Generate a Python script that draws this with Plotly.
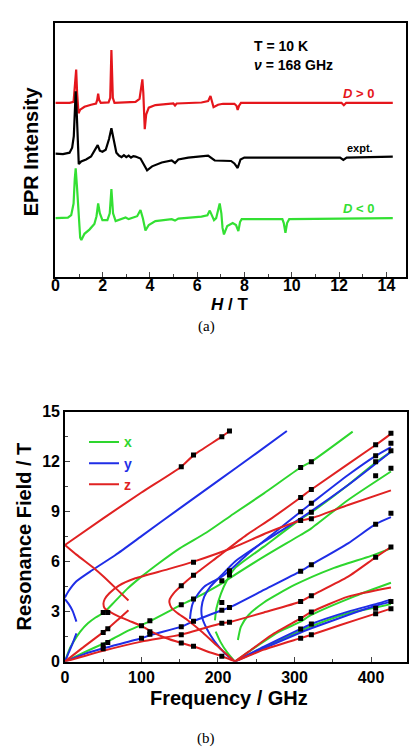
import plotly.graph_objects as go

# ---------------- Panel (a): EPR spectra (H in T, intensity in arb. units) ----------------
H_dpos = [0, 0.6, 0.77, 0.84, 0.88, 0.92, 0.98, 1.05, 1.23, 1.51, 1.72, 1.77, 1.81, 1.85, 1.92, 2.25, 2.32, 2.37,
          2.43, 2.5, 3.39, 3.56, 3.64, 3.68, 3.72, 3.75, 3.78, 3.84, 3.95, 4.23, 4.78, 4.99, 5.06, 5.13, 6.18, 6.46,
          6.56, 6.62, 6.69, 6.88, 7.09, 7.57, 7.66, 7.71, 7.77, 7.85, 12.1, 12.2, 12.3, 14.27]
I_dpos = [0, 0, 1, 20, 34, 10, -10.7, -7, -4, -2, -0.7, 3, 9.3, 3, 0, 0.5, 5, 54,
          5, 0, 1, 4, 15, 24, 10, -20, -27, -12, -5, -2.3, -0.7, -0.7, -2.7, -0.7, 0.3, 1.7,
          7, 2, -4.5, -2, -1, -1, -3, -7.3, -3, 0, 0, -2.5, 0, 0]

H_expt = [0, 0.32, 0.6, 0.71, 0.78, 0.84, 0.86, 0.91, 0.95, 0.99, 1.09, 1.3, 1.51, 1.69, 1.79, 1.88, 1.99, 2.13,
          2.27, 2.37, 2.47, 2.58, 2.69, 2.8, 2.9, 3.0, 3.1, 3.2, 3.3, 3.39, 3.6, 3.74, 3.88, 4.09, 4.5, 4.92, 5.06,
          5.2, 5.62, 6.46, 6.62, 6.74, 7.43, 7.57, 7.71, 7.83, 7.99, 12.04, 12.18, 12.32, 14.27]
I_expt = [2, 1.5, 3, 8, 20, 50, 65.7, 40, 5, -8.7, -6, -4, -1, 7, 10.7, 5, 4, 6,
          17, 28, 14, 3, 0, -1.5, 0.5, -1.5, 0, -2, -0.5, -1, -3, -9, -15, -11, -7, -5, -7.5,
          -4, -2, 0, -3, -5, -5.5, -8, -12.7, -4, -2, -2, -4.5, -2, -1]

H_dneg = [0, 0.53, 0.67, 0.77, 0.82, 0.86, 0.92, 0.98, 1.05, 1.1, 1.23, 1.44, 1.65, 1.74, 1.81, 1.88, 1.99, 2.2,
          2.3, 2.37, 2.44, 2.55, 2.83, 2.97, 3.1, 3.46, 3.6, 3.7, 3.81, 3.95, 4.23, 4.92, 5.06, 5.2, 6.18, 6.43,
          6.53, 6.62, 6.71, 6.8, 6.88, 6.95, 7.02, 7.07, 7.13, 7.27, 7.5, 7.64, 7.74, 7.81, 7.88, 9.6, 9.66,
          9.73, 9.8, 9.89, 14.27]
I_dneg = [0, 0.5, 3, 15, 40, 51, 30, 0, -20, -22.3, -16, -11.7, -6, 2, 15, 5, -2, -2,
          5, 29.7, 5, -3, -1, 0.7, -1, 2, 8.3, 0, -12.7, -7, -3, -1, -2.5, -0.5, 1.5, 3,
          7.7, 2, -2, 0, 8, 15, 5, -10, -16.7, -8, -5, -7, -13.3, -4, -1, -1, -5,
          -15, -5, -1, 0]

offset_dpos = 178
offset_expt = 124
offset_dneg = 60

# ---------------- Panel (b): resonance field (T) vs frequency (GHz) ----------------
z1 = [(0, 7.0), (50, 8.6), (100, 10.15), (152, 11.7), (168, 12.38), (205, 13.5), (215, 13.84)]
z2 = [(0, 7.0), (15, 6.42), (38, 5.6), (50, 5.12), (71, 4.2), (83, 3.67)]
z3 = [(0, 0), (25, 0.9), (51, 1.8), (56, 1.98), (70, 2.55), (83, 3.08)]
z4 = [(426, 10.28), (370, 9.4), (322, 8.6), (308, 8.47), (265, 7.75), (220, 6.85), (168, 6.0), (135, 5.55),
      (92, 5.0), (70, 4.55), (58, 4.1), (52, 3.75), (50.3, 3.47), (52, 3.2), (60, 2.95), (70, 2.72), (84, 2.45),
      (100, 2.14), (111, 1.85), (130, 1.45), (152, 1.12), (168, 0.92), (190, 0.55), (205, 0.33), (222, 0)]
z5 = [(426, 13.67), (406, 13.0), (322, 10.33), (308, 9.85), (270, 8.6), (237, 7.59), (200, 6.3), (168, 5.18),
      (152, 4.55), (142, 4.1), (137, 3.75), (136.5, 3.55), (139, 3.25), (146, 2.95), (160, 2.5), (180, 1.75),
      (200, 0.9), (222, 0)]
z6 = [(0, 0), (50, 0.65), (100, 1.2), (152, 1.62), (205, 2.3), (215, 2.37), (220, 2.43), (260, 2.95), (308, 3.61),
      (322, 3.96), (370, 5.1), (406, 6.26), (426, 6.88)]
z7 = [(222, 0), (240, 0.35), (260, 0.72), (308, 1.41), (322, 1.61), (360, 2.2), (406, 2.88), (426, 3.18)]
z8 = [(222, 0), (240, 0.6), (270, 1.6), (308, 2.59), (322, 2.98), (370, 3.9), (426, 4.45)]

y1 = [(0, 3.85), (5, 4.25), (15, 4.82), (36, 5.5), (66, 6.4), (100, 7.53), (150, 9.2), (200, 10.85), (250, 12.5), (290, 13.84)]
y2 = [(0, 3.75), (5, 3.45), (10, 3.05), (15, 2.4)]
y3 = [(0, 0), (5, 0.55), (10, 1.1), (15, 1.7)]
y4 = [(0, 0), (25, 0.45), (50, 0.8), (100, 1.4), (112, 1.6), (152, 2.1), (168, 2.43), (205, 3.08), (215, 3.25),
      (260, 4.3), (308, 5.43), (322, 5.82), (370, 7.1), (406, 8.25), (426, 8.67)]
y5 = [(163.4, 2.57), (164.5, 3.0), (167, 3.5), (173, 4.0), (182, 4.5), (195, 4.85), (205, 5.1), (215, 5.45),
      (240, 6.5), (270, 7.6), (308, 9.0), (322, 9.5), (370, 11.2), (406, 12.35), (426, 12.88)]
y6 = [(222, 0), (260, 0.9), (308, 1.96), (322, 2.26), (370, 3.0), (406, 3.45), (426, 3.72)]
y7 = [(222, 0), (260, 0.8), (308, 1.75), (322, 2.0), (370, 2.8), (406, 3.35), (426, 3.6)]
y8 = [(222, 0), (210, 0.45), (195, 1.25), (185, 2.0), (179, 2.7), (178.5, 3.25), (182, 3.9), (190, 4.5), (205, 5.2),
      (222, 6.0), (260, 7.2), (308, 8.6), (370, 10.6), (426, 12.6)]

x1 = [(0, 0), (5, 0.65), (10, 1.1), (20, 1.8), (30, 2.3), (40, 2.65), (51, 2.95), (65, 3.6), (81, 4.35), (100, 5.1),
      (124, 5.95), (150, 6.8), (185, 7.75), (220, 8.86), (260, 10.1), (308, 11.65), (322, 12.0), (376, 13.8)]
x2 = [(0, 0), (25, 0.55), (51, 1.1), (56, 1.2), (80, 1.8), (100, 2.2), (112, 2.45), (152, 3.41), (168, 3.76),
      (205, 4.7), (215, 5.0), (260, 6.3), (308, 7.6), (322, 8.0), (370, 9.7), (426, 11.41)]
x3 = [(196, 2.47), (198, 3.2), (204, 4.1), (212, 4.9), (222, 5.6), (260, 6.9), (308, 8.55), (322, 8.96), (370, 10.6),
      (406, 11.95), (426, 12.59)]
x3b = [(222, 0), (212, 0.55), (203, 1.2), (197, 1.8)]
x4 = [(226, 1.3), (230, 2.1), (240, 2.8), (260, 3.55), (300, 4.6), (350, 5.6), (400, 6.35), (426, 6.8)]
x5 = [(222, 0), (250, 0.9), (280, 1.8), (308, 2.4), (322, 2.8), (380, 3.95), (426, 4.73)]
x6 = [(222, 0), (260, 0.85), (308, 1.85), (322, 2.12), (370, 2.9), (406, 3.25), (426, 3.45)]

# experimental resonance fields (frequency, field)
exp_freq = [50, 50, 50, 50, 56, 56, 56, 100, 100, 111, 111, 111,
            152, 152, 152, 152, 152, 152, 168, 168, 168, 168, 168, 168,
            205, 205, 205, 205, 205, 205, 215, 215, 215, 215, 215,
            308, 308, 308, 308, 308, 308, 308, 308, 308,
            322, 322, 322, 322, 322, 322, 322, 322, 322, 322,
            406, 406, 406, 406, 406, 406, 406, 406,
            426, 426, 426, 426, 426, 426, 426, 426]
exp_field = [2.95, 1.75, 1.0, 0.78, 2.95, 1.98, 1.15, 2.15, 1.4, 2.45, 1.8, 1.65,
             11.7, 4.55, 3.41, 2.1, 1.61, 1.12, 12.4, 5.96, 5.18, 3.76, 2.43, 0.92,
             13.5, 4.85, 3.55, 3.08, 2.3, 0.33, 13.84, 5.45, 5.2, 3.25, 2.37,
             11.65, 9.85, 9.0, 8.47, 5.43, 3.61, 2.59, 1.96, 1.41,
             12.0, 10.33, 9.5, 8.96, 8.57, 5.82, 3.96, 2.98, 2.26, 1.61,
             13.02, 12.35, 12.0, 11.15, 8.25, 6.26, 3.2, 2.88,
             13.7, 13.1, 12.65, 11.6, 8.9, 6.88, 3.61, 3.18]

RED_A, GREEN_A = "#e5161c", "#33e033"
RED_B, BLUE_B, GREEN_B = "#e02222", "#1f2ee6", "#2ed62e"
FONT = "Liberation Sans, Arial, sans-serif"

W, Hpx = 409, 754
fig = go.Figure()

def shifted(vals, off):
    return [v + off for v in vals]

fig.add_trace(go.Scatter(x=H_dpos, y=shifted(I_dpos, offset_dpos), mode="lines", line=dict(color=RED_A, width=2.2),
                         xaxis="x", yaxis="y", showlegend=False, name="D > 0"))
fig.add_trace(go.Scatter(x=H_expt, y=shifted(I_expt, offset_expt), mode="lines", line=dict(color="black", width=2.2),
                         xaxis="x", yaxis="y", showlegend=False, name="expt."))
fig.add_trace(go.Scatter(x=H_dneg, y=shifted(I_dneg, offset_dneg), mode="lines", line=dict(color=GREEN_A, width=2.2),
                         xaxis="x", yaxis="y", showlegend=False, name="D < 0"))

groups = [("x", GREEN_B, [x1, x2, x3, x3b, x4, x5, x6]),
          ("y", BLUE_B, [y1, y2, y3, y4, y5, y6, y7, y8]),
          ("z", RED_B, [z1, z2, z3, z4, z5, z6, z7, z8])]
for label, col, curves in groups:
    for i, c in enumerate(curves):
        fig.add_trace(go.Scatter(
            x=[p[0] for p in c], y=[p[1] for p in c], mode="lines",
            line=dict(color=col, width=2, shape="spline", smoothing=0.6),
            xaxis="x2", yaxis="y2", legendgroup=label, showlegend=(i == 0),
            name=f"<span style='color:{col}'><b>{label}</b></span>"))

fig.add_trace(go.Scatter(x=exp_freq, y=exp_field, mode="markers",
                         marker=dict(symbol="square", size=5, color="black"),
                         xaxis="x2", yaxis="y2", showlegend=False, name="expt."))

def px2fx(px):
    return px / W

def py2fy(py):
    return 1 - py / Hpx

axis_common = dict(showline=True, linewidth=1.6, linecolor="black", mirror=True, showgrid=False, zeroline=False)

fig.update_layout(
    width=W, height=Hpx, margin=dict(l=0, r=0, t=0, b=0),
    plot_bgcolor="white", paper_bgcolor="white",
    font=dict(family=FONT, color="black"),
    xaxis=dict(domain=[px2fx(52), px2fx(407)], range=[0, 14.83], anchor="y", **axis_common,
               ticks="inside", ticklen=5, tickwidth=1.4, dtick=2, tick0=0, ticklabelstandoff=-7,
               minor=dict(ticks="inside", ticklen=3, dtick=1, tickwidth=1.2),
               tickfont=dict(size=16, family=FONT, weight="bold")),
    yaxis=dict(domain=[py2fy(275), py2fy(15)], range=[0, 260], anchor="x", **axis_common,
               ticks="", showticklabels=False),
    xaxis2=dict(domain=[px2fx(61.7), px2fx(408)], range=[0, 447], anchor="y2", **axis_common,
                ticks="inside", ticklen=5, tickwidth=1.4, dtick=100, tick0=0,
                minor=dict(ticks="inside", ticklen=3, dtick=50, tickwidth=1.2),
                tickfont=dict(size=16, family=FONT, weight="bold")),
    yaxis2=dict(domain=[py2fy(668.7), py2fy(413)], range=[0, 15], anchor="x2", **axis_common,
                ticks="inside", ticklen=5, tickwidth=1.4, dtick=3, tick0=0,
                minor=dict(ticks="inside", ticklen=3, dtick=1.5, tickwidth=1.2),
                tickfont=dict(size=16, family=FONT, weight="bold")),
    legend=dict(x=px2fx(81), y=py2fy(428), xanchor="left", yanchor="top", bgcolor="rgba(0,0,0,0)",
                font=dict(size=14, family=FONT), tracegroupgap=0, itemwidth=30),
)

ann = [
    dict(text="<b>EPR Intensity</b>", x=px2fx(27), y=py2fy(147), textangle=-90, font=dict(size=20)),
    dict(text="<b><i>H</i> / T</b>", x=px2fx(228), y=py2fy(303), font=dict(size=17)),
    dict(text="<b>T = 10 K</b>", x=px2fx(280), y=py2fy(39), font=dict(size=14)),
    dict(text="<b><i>ν</i> = 168 GHz</b>", x=px2fx(293), y=py2fy(58), font=dict(size=14)),
    dict(text="<b><i>D</i> > 0</b>", x=px2fx(359), y=py2fy(87), font=dict(size=13, color=RED_A)),
    dict(text="<b>expt.</b>", x=px2fx(360), y=py2fy(143), font=dict(size=11)),
    dict(text="<b><i>D</i> < 0</b>", x=px2fx(359), y=py2fy(205), font=dict(size=13, color=GREEN_A)),
    dict(text="(a)", x=px2fx(205), y=py2fy(326), font=dict(size=15, family="Liberation Serif, Times New Roman, serif")),
    dict(text="<b>Resonance Field / T</b>", x=px2fx(20), y=py2fy(541), textangle=-90, font=dict(size=20)),
    dict(text="<b>Frequency / GHz</b>", x=px2fx(228), y=py2fy(706), font=dict(size=20)),
    dict(text="(b)", x=px2fx(205), y=py2fy(747), font=dict(size=15, family="Liberation Serif, Times New Roman, serif")),
]
for a in ann:
    a.update(xref="paper", yref="paper", showarrow=False, xanchor="center", yanchor="middle")
    a.setdefault("font", {})
    a["font"].setdefault("family", FONT)
    a["font"].setdefault("color", "black")
fig.update_layout(annotations=ann)

fig.write_html("out.html", config={"displayModeBar": False},
               post_script="document.body.style.margin='0';document.body.style.overflow='hidden';")
